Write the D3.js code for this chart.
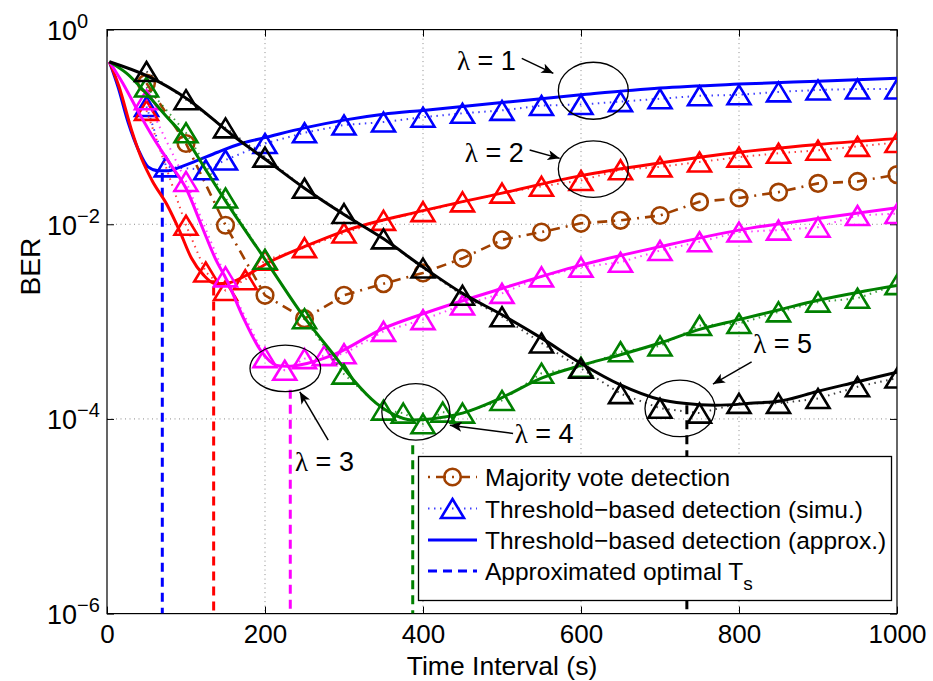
<!DOCTYPE html>
<html><head><meta charset="utf-8">
<script src="https://cdn.jsdelivr.net/npm/d3@7"></script>
<style>body{margin:0;background:#fff} svg{display:block}</style>
</head><body><svg id="c" width="933" height="681"></svg>
<script>
const xTicks = [0, 200, 400, 600, 800, 1000];
const yTickExp = [0, -2, -4, -6];

// Majority vote detection (brown, dash-dot with circles)
const majT   = [50,100,150,200,250,300,350,400,450,500,550,600,650,700,750,800,850,900,950,1000];
const majLog = [-0.55,-1.17,-2.01,-2.73,-2.97,-2.73,-2.61,-2.50,-2.35,-2.16,-2.08,-1.99,-1.96,-1.91,-1.77,-1.73,-1.67,-1.58,-1.56,-1.49];

// Threshold-based detection, simulation (triangles, dotted)
const simT1   = [50,75,125,150,200,250,300,350,400,450,500,550,600,650,700,750,800,850,900,950,1000];
const simLog1 = [-0.79,-1.41,-1.44,-1.34,-1.17,-1.06,-0.98,-0.95,-0.90,-0.86,-0.83,-0.78,-0.77,-0.74,-0.71,-0.68,-0.67,-0.64,-0.62,-0.61,-0.61];
const simT2   = [50,100,125,150,175,200,250,300,350,400,450,500,550,600,650,700,750,800,850,900,950,1000];
const simLog2 = [-0.83,-2.01,-2.49,-2.68,-2.57,-2.37,-2.24,-2.09,-1.96,-1.87,-1.77,-1.68,-1.61,-1.55,-1.44,-1.41,-1.36,-1.31,-1.27,-1.24,-1.20,-1.16];
const simT3   = [50,100,150,200,225,250,275,300,350,400,450,500,550,600,650,700,750,800,850,900,950,1000];
const simLog3 = [-0.72,-1.56,-2.54,-3.37,-3.50,-3.38,-3.35,-3.33,-3.10,-2.98,-2.83,-2.71,-2.54,-2.44,-2.39,-2.27,-2.18,-2.08,-2.06,-2.03,-1.91,-1.89];
const simT4   = [50,100,150,200,250,300,350,375,400,425,450,500,550,600,650,700,750,800,850,900,950,1000];
const simLog4 = [-0.59,-1.06,-1.73,-2.36,-2.97,-3.54,-3.91,-3.94,-4.05,-3.93,-3.94,-3.81,-3.53,-3.47,-3.31,-3.25,-3.04,-3.02,-2.90,-2.80,-2.76,-2.62];
const simT5   = [50,100,150,200,250,300,350,400,450,500,550,600,650,700,750,800,850,900,950,1000];
const simLog5 = [-0.43,-0.72,-1.01,-1.31,-1.63,-1.89,-2.15,-2.45,-2.73,-2.95,-3.22,-3.48,-3.74,-3.89,-3.94,-3.84,-3.84,-3.79,-3.67,-3.58];

// Threshold-based detection, approximation (solid)
const apxT1   = [3,14,27,40,52,65,78,90,110,140,170,200,250,300,350,400,500,600,700,800,900,1000];
const apxLog1 = [-0.33,-0.59,-0.96,-1.24,-1.41,-1.45,-1.45,-1.42,-1.36,-1.26,-1.17,-1.11,-1.01,-0.93,-0.87,-0.83,-0.75,-0.67,-0.60,-0.56,-0.53,-0.50];
const apxT2   = [3,15,31,44,57,76,92,107,122,137,155,175,210,250,300,400,500,600,700,800,900,1000];
const apxLog2 = [-0.33,-0.58,-1.03,-1.33,-1.55,-1.80,-2.07,-2.35,-2.52,-2.61,-2.60,-2.53,-2.37,-2.23,-2.07,-1.86,-1.68,-1.50,-1.37,-1.26,-1.18,-1.12];
const apxT3   = [3,20,40,60,80,100,120,137,152,172,194,215,228,253,287,350,400,500,600,700,800,900,1000];
const apxLog3 = [-0.33,-0.55,-0.85,-1.13,-1.38,-1.63,-2.02,-2.35,-2.58,-2.95,-3.29,-3.45,-3.46,-3.43,-3.34,-3.07,-2.92,-2.66,-2.42,-2.23,-2.06,-1.94,-1.83];
const apxT4   = [3,25,50,75,100,125,150,200,250,286,312,341,362,385,410,450,500,550,600,650,700,750,800,850,900,950,1000];
const apxLog4 = [-0.33,-0.45,-0.66,-0.89,-1.12,-1.44,-1.76,-2.36,-2.96,-3.33,-3.60,-3.84,-3.95,-4.01,-4.00,-3.94,-3.78,-3.58,-3.45,-3.34,-3.22,-3.08,-2.98,-2.88,-2.78,-2.70,-2.63];
const apxT5   = [3,52,103,158,200,250,300,350,400,450,500,550,600,650,700,730,770,814,856,898,949,1000];
const apxLog5 = [-0.33,-0.48,-0.72,-1.08,-1.33,-1.63,-1.90,-2.15,-2.44,-2.71,-2.93,-3.17,-3.43,-3.65,-3.80,-3.84,-3.86,-3.84,-3.81,-3.72,-3.62,-3.52];

// Approximated optimal Ts (vertical dashed lines)
const optT      = [70, 135, 232, 387, 734];
const optTopLog = [-1.47, -2.64, -3.70, -4.27, -3.86];

const lambdas = [1, 2, 3, 4, 5];
const colors  = ["#0000ff", "#ff0000", "#ff00ff", "#008000", "#000000"];
const brown   = "#a04000";

// annotations (data coordinates)
const ellT   = [615.6, 615.6, 225.7, 390.9, 725.3];
const ellLog = [-0.628, -1.433, -3.481, -3.927, -3.892];
const ellRx  = [35, 35, 35.3, 34, 35];
const ellRy  = [28.5, 28.3, 23.3, 28.3, 28.3];
const lblT   = [443, 453, 238, 516, 818];
const lblLog = [-0.415, -1.358, -4.537, -4.252, -3.327];
const arrFromT = [525, 535, 280, 514, 816];
const arrFromLog = [-0.295, -1.237, -4.218, -4.149, -3.413];
const arrToT = [565, 573, 244, 434, 767];
const arrToLog = [-0.449, -1.323, -3.721, -4.064, -3.642];

const legendLabels = ["Majority vote detection", "Threshold\u2212based detection (simu.)", "Threshold\u2212based detection (approx.)", "Approximated optimal T"];

// ---------- drawing ----------
const svg = d3.select("#c");
const FONT = "'Liberation Sans', Arial, Helvetica, sans-serif";
const L = 107, R = 897, T = 29.6, B = 613.6;
const x = d3.scaleLinear().domain([0, 1000]).range([L, R]);
const y = d3.scaleLog().domain([1e-6, 1]).range([B, T]);
const Y = e => y(Math.pow(10, e));

svg.append("rect").attr("width", 933).attr("height", 681).attr("fill", "#fff");

const defs = svg.append("defs");
defs.append("clipPath").attr("id", "clip").append("rect")
  .attr("x", L).attr("y", T).attr("width", R - L).attr("height", B - T);
defs.append("marker").attr("id", "arrow").attr("viewBox", "0 0 12 10")
  .attr("refX", 12).attr("refY", 5).attr("markerWidth", 12).attr("markerHeight", 10)
  .attr("markerUnits", "userSpaceOnUse").attr("orient", "auto")
  .append("path").attr("d", "M0,0 L12,5 L0,10 L3,5 Z").attr("fill", "#000");

// grid
const grid = svg.append("g").attr("stroke", "#8a8a8a").attr("stroke-width", 1).attr("stroke-dasharray", "1,3.5");
xTicks.filter(t => t > 0 && t < 1000).forEach(t =>
  grid.append("line").attr("x1", x(t)).attr("x2", x(t)).attr("y1", T).attr("y2", B));
yTickExp.filter(e => e < 0 && e > -6).forEach(e =>
  grid.append("line").attr("x1", L).attr("x2", R).attr("y1", Y(e)).attr("y2", Y(e)));

// axes
const gx = svg.append("g").attr("transform", `translate(0,${B})`)
  .call(d3.axisBottom(x).tickValues(xTicks).tickSizeInner(-7).tickSizeOuter(0).tickPadding(11).tickFormat(d3.format("d")));
const gxt = svg.append("g").attr("transform", `translate(0,${T})`)
  .call(d3.axisTop(x).tickValues(xTicks).tickSizeInner(-7).tickSizeOuter(0).tickFormat(""));
const yVals = yTickExp.map(e => Math.pow(10, e));
const gy = svg.append("g").attr("transform", `translate(${L},0)`)
  .call(d3.axisLeft(y).tickValues(yVals).tickSizeInner(-7).tickSizeOuter(0).tickFormat(""));
const gyr = svg.append("g").attr("transform", `translate(${R},0)`)
  .call(d3.axisRight(y).tickValues(yVals).tickSizeInner(-7).tickSizeOuter(0).tickFormat(""));
[gx, gxt, gy, gyr].forEach(g => {
  g.select(".domain").remove();
  g.selectAll("line").attr("stroke", "#000").attr("stroke-width", 1);
});
gx.selectAll("text").attr("font-family", FONT).attr("font-size", 26).attr("fill", "#000").attr("dy", "0.71em");

// y tick labels 10^e
gy.selectAll(".tick").each(function(d) {
  const e = Math.round(Math.log10(d));
  const t = d3.select(this).append("text").attr("font-family", FONT).attr("fill", "#000")
    .attr("text-anchor", "start").attr("x", 47 - L).attr("y", 10);
  t.append("tspan").attr("font-size", 27).text("10");
  t.append("tspan").attr("font-size", 20).attr("dy", -12).text(e === 0 ? "0" : "\u2212" + Math.abs(e));
});

// frame
svg.append("rect").attr("x", L).attr("y", T).attr("width", R - L).attr("height", B - T)
  .attr("fill", "none").attr("stroke", "#000").attr("stroke-width", 1.2);

// axis titles
svg.append("text").attr("x", (L + R) / 2).attr("y", 675).attr("text-anchor", "middle")
  .attr("font-family", FONT).attr("font-size", 26.5).text("Time Interval (s)");
svg.append("text").attr("transform", `translate(40,${(T + B) / 2 - 55}) rotate(-90)`)
  .attr("text-anchor", "middle").attr("font-family", FONT).attr("font-size", 28).text("BER");

const plot = svg.append("g").attr("clip-path", "url(#clip)");

// vertical dashed lines for optimal Ts
optT.forEach((t, i) => {
  plot.append("line").attr("x1", x(t)).attr("x2", x(t)).attr("y1", Y(optTopLog[i])).attr("y2", B)
    .attr("stroke", colors[i]).attr("stroke-width", 3).attr("stroke-dasharray", "9,6");
});

const lineStraight = d3.line().x(d => x(d[0])).y(d => Y(d[1]));
const lineSmooth = d3.line().x(d => x(d[0])).y(d => Y(d[1])).curve(d3.curveMonotoneX);
const zip = (a, b) => a.map((v, i) => [v, b[i]]);

function tri(g, cx, cy, color) {
  g.append("path").attr("d", `M${cx},${cy - 9.5} L${cx + 11.5},${cy + 9.5} L${cx - 11.5},${cy + 9.5} Z`)
    .attr("fill", "none").attr("stroke", color).attr("stroke-width", 2.6).attr("stroke-linejoin", "miter");
}
function circ(g, cx, cy, color) {
  g.append("circle").attr("cx", cx).attr("cy", cy).attr("r", 8.3)
    .attr("fill", "none").attr("stroke", color).attr("stroke-width", 2.6);
}

// majority vote
const majPts = zip(majT, majLog);
plot.append("path").attr("d", lineStraight(majPts)).attr("fill", "none").attr("stroke", brown)
  .attr("stroke-width", 2.6).attr("stroke-dasharray", "10,6,2,6");
majPts.forEach(p => circ(plot, x(p[0]), Y(p[1]), brown));

const simTs = [simT1, simT2, simT3, simT4, simT5];
const simLogs = [simLog1, simLog2, simLog3, simLog4, simLog5];
const apxTs = [apxT1, apxT2, apxT3, apxT4, apxT5];
const apxLogs = [apxLog1, apxLog2, apxLog3, apxLog4, apxLog5];

lambdas.forEach((lam, i) => {
  const sp = zip(simTs[i], simLogs[i]);
  plot.append("path").attr("d", lineStraight(sp)).attr("fill", "none").attr("stroke", colors[i])
    .attr("stroke-width", 2).attr("stroke-dasharray", "1.5,4.5").attr("opacity", 0.75);
  sp.forEach(p => tri(plot, x(p[0]), Y(p[1]), colors[i]));
  plot.append("path").attr("d", lineSmooth(zip(apxTs[i], apxLogs[i]))).attr("fill", "none")
    .attr("stroke", colors[i]).attr("stroke-width", 3);
});

// annotations
const ann = svg.append("g");
lambdas.forEach((lam, i) => {
  ann.append("ellipse").attr("cx", x(ellT[i])).attr("cy", Y(ellLog[i])).attr("rx", ellRx[i]).attr("ry", ellRy[i])
    .attr("fill", "none").attr("stroke", "#000").attr("stroke-width", 1.3);
  ann.append("line").attr("x1", x(arrFromT[i])).attr("y1", Y(arrFromLog[i]))
    .attr("x2", x(arrToT[i])).attr("y2", Y(arrToLog[i]))
    .attr("stroke", "#000").attr("stroke-width", 1.5).attr("marker-end", "url(#arrow)");
  const t = ann.append("text").attr("x", x(lblT[i])).attr("y", Y(lblLog[i])).attr("font-size", 27).attr("fill", "#000");
  t.append("tspan").attr("font-family", "'Liberation Serif', 'DejaVu Serif', serif").text("\u03bb");
  t.append("tspan").attr("font-family", FONT).text(" = " + lam);
});

// legend
const lg = svg.append("g");
lg.append("rect").attr("x", 418.5).attr("y", 456.5).attr("width", 473).attr("height", 144)
  .attr("fill", "#fff").attr("stroke", "#000").attr("stroke-width", 1.3);
const rowY = [477, 508.5, 540, 571];
const sx0 = 428, sx1 = 477, sxm = 452.5;
// row 1
lg.append("line").attr("x1", sx0).attr("x2", sx1).attr("y1", rowY[0]).attr("y2", rowY[0])
  .attr("stroke", brown).attr("stroke-width", 2.6).attr("stroke-dasharray", "2,6,10,6");
circ(lg, sxm, rowY[0], brown);
// row 2
lg.append("line").attr("x1", sx0).attr("x2", sx1).attr("y1", rowY[1]).attr("y2", rowY[1])
  .attr("stroke", colors[0]).attr("stroke-width", 2).attr("stroke-dasharray", "1.5,4.5").attr("opacity", 0.75);
tri(lg, sxm, rowY[1], colors[0]);
// row 3
lg.append("line").attr("x1", sx0).attr("x2", sx1).attr("y1", rowY[2]).attr("y2", rowY[2])
  .attr("stroke", colors[0]).attr("stroke-width", 3);
// row 4
lg.append("line").attr("x1", sx0).attr("x2", sx1).attr("y1", rowY[3]).attr("y2", rowY[3])
  .attr("stroke", colors[0]).attr("stroke-width", 3).attr("stroke-dasharray", "9,6");
legendLabels.forEach((s, i) => {
  const t = lg.append("text").attr("x", 485).attr("y", rowY[i] + 9).attr("font-family", FONT)
    .attr("font-size", 24.5).attr("fill", "#000").text(s);
  if (i === 3) t.append("tspan").attr("font-size", 19).attr("dy", 10).text("s");
});
</script></body></html>
